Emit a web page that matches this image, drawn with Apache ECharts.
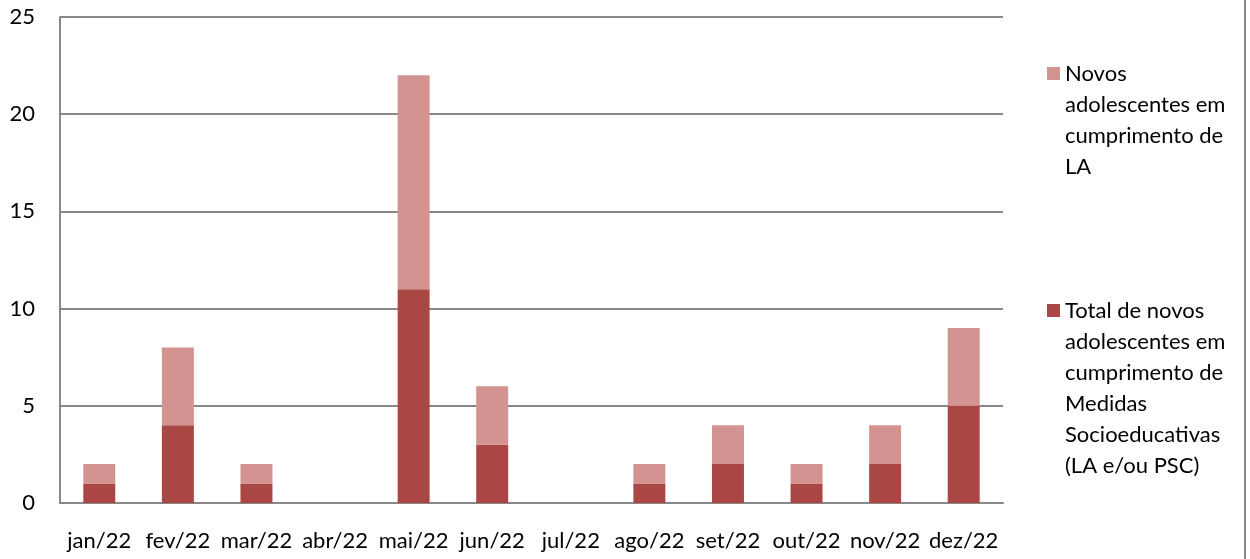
<!DOCTYPE html>
<html>
<head>
<meta charset="utf-8">
<script src="https://cdn.jsdelivr.net/npm/echarts@6/dist/echarts.min.js"></script>
<style>
  html, body { margin: 0; padding: 0; background: #fff; }
  #chart { width: 1250px; height: 559px; }
</style>
</head>
<body>
<div id="chart"></div>
<script>
// Monthly intake of adolescents in socio-educational measures, 2022
const months = ['jan/22', 'fev/22', 'mar/22', 'abr/22', 'mai/22', 'jun/22',
                'jul/22', 'ago/22', 'set/22', 'out/22', 'nov/22', 'dez/22'];
const totalNovos = [1, 4, 1, 0, 11, 3, 0, 1, 2, 1, 2, 5];
const novosLA = [1, 4, 1, 0, 11, 3, 0, 1, 2, 1, 2, 4];
const yTicks = [0, 5, 10, 15, 20, 25];

const nameTotal = 'Total de novos\nadolescentes em\ncumprimento de\nMedidas\nSocioeducativas\n(LA e/ou PSC)';
const nameLA = 'Novos\nadolescentes em\ncumprimento de\nLA';

const FONT = 'Lato, "Noto Sans", sans-serif';
const FS = 22;
const LH = 31;
const SQ = 13;
const GRID_COLOR = '#888888';

// Legend entry whose square sits beside the first line of a wrapped label:
// the icon box spans the whole text block, the square is drawn at its top.
function legendFor(name, top, lines) {
  const h = lines * LH;
  const y0 = (LH - SQ) / 2;
  return {
    data: [{ name: name }],
    left: 1042,
    top: top,
    orient: 'vertical',
    icon: 'path://M0,0L0,0M0,' + h + 'L0,' + h +
          'M0,' + y0 + 'h' + SQ + 'v' + SQ + 'h-' + SQ + 'z',
    itemWidth: SQ,
    itemHeight: h,
    itemGap: 8,
    selectedMode: false,
    textStyle: { fontFamily: FONT, fontSize: FS, color: '#000', lineHeight: LH }
  };
}

const chart = echarts.init(document.getElementById('chart'), null, { renderer: 'canvas' });
chart.setOption({
  animation: false,
  backgroundColor: '#ffffff',
  grid: { left: 60, right: 247, top: 17, bottom: 56, containLabel: false },
  legend: [
    legendFor(nameLA, 53, 4),
    legendFor(nameTotal, 290, 6)
  ],
  xAxis: {
    type: 'category',
    data: months,
    axisLine: { lineStyle: { color: GRID_COLOR, width: 2 } },
    axisTick: { show: false },
    axisLabel: { fontFamily: FONT, fontSize: FS, color: '#000', margin: 27, interval: 0 }
  },
  yAxis: {
    type: 'value',
    min: yTicks[0],
    max: yTicks[yTicks.length - 1],
    interval: yTicks[1] - yTicks[0],
    axisLine: { show: true, lineStyle: { color: GRID_COLOR, width: 2 } },
    axisTick: { show: false },
    splitLine: { lineStyle: { color: GRID_COLOR, width: 2 } },
    axisLabel: { fontFamily: FONT, fontSize: FS, color: '#000', margin: 25 }
  },
  series: [
    {
      name: nameTotal,
      type: 'bar',
      stack: 'total',
      data: totalNovos,
      barWidth: '40.7%',
      itemStyle: { color: '#AA4643' }
    },
    {
      name: nameLA,
      type: 'bar',
      stack: 'total',
      data: novosLA,
      barWidth: '40.7%',
      itemStyle: { color: '#D39391' }
    }
  ],
  graphic: [
    {
      type: 'line',
      shape: { x1: 1245, y1: 0, x2: 1245, y2: 559 },
      style: { stroke: GRID_COLOR, lineWidth: 2 }
    }
  ]
});
</script>
</body>
</html>
